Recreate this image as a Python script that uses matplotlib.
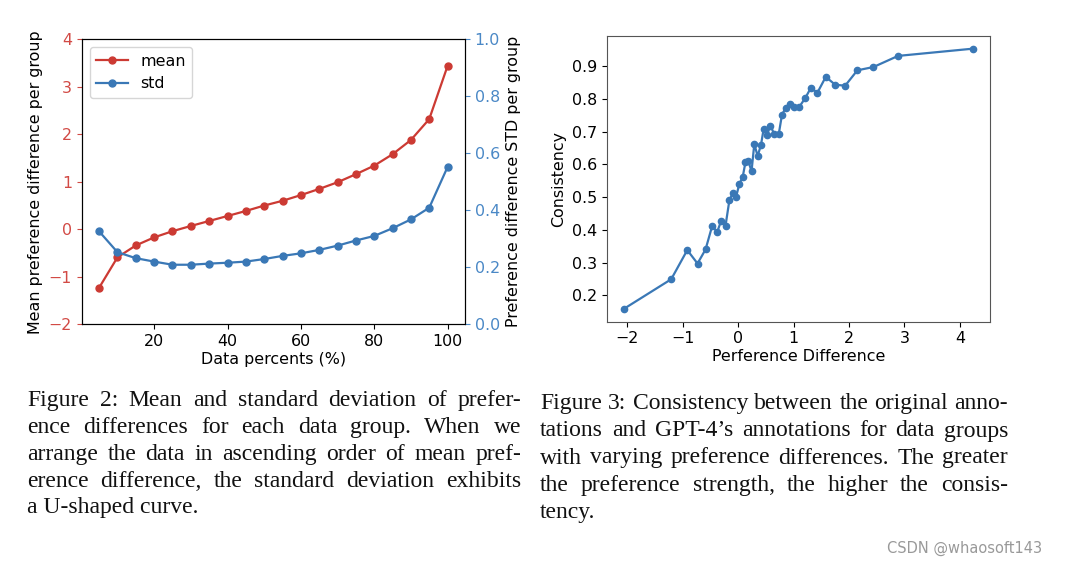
import numpy as np
import matplotlib
matplotlib.use('Agg')
import matplotlib.pyplot as plt

# data: figure 2 (left)
percents = [5, 10, 15, 20, 25, 30, 35, 40, 45, 50, 55, 60, 65, 70, 75, 80, 85, 90, 95, 100]
mean_diff = [-1.23, -0.59, -0.34, -0.17, -0.04, 0.07, 0.175, 0.28, 0.386, 0.50,
             0.60, 0.72, 0.85, 0.99, 1.16, 1.34, 1.58, 1.88, 2.32, 3.44]
std_diff = [0.326, 0.253, 0.232, 0.220, 0.209, 0.209, 0.213, 0.216, 0.220, 0.229,
            0.240, 0.249, 0.261, 0.276, 0.294, 0.310, 0.337, 0.368, 0.409, 0.552]

# data: figure 3 (right)
pref_diff = [-2.06, -1.21, -0.92, -0.735, -0.59, -0.47, -0.38, -0.31, -0.23, -0.16,
             -0.10, -0.04, 0.02, 0.08, 0.13, 0.18, 0.24, 0.29, 0.35, 0.41,
             0.46, 0.52, 0.58, 0.65, 0.73, 0.79, 0.86, 0.93, 1.01, 1.10,
             1.205, 1.31, 1.43, 1.58, 1.75, 1.93, 2.15, 2.44, 2.885, 4.23]
consistency = [0.159, 0.249, 0.338, 0.297, 0.340, 0.412, 0.393, 0.427, 0.412, 0.490,
               0.511, 0.500, 0.540, 0.561, 0.606, 0.610, 0.579, 0.662, 0.625, 0.659,
               0.709, 0.690, 0.718, 0.692, 0.691, 0.752, 0.773, 0.784, 0.775, 0.775,
               0.801, 0.833, 0.819, 0.867, 0.843, 0.840, 0.887, 0.897, 0.931, 0.953]

caption_left = [
    "Figure 2: Mean and standard deviation of prefer-",
    "ence differences for each data group.  When we",
    "arrange the data in ascending order of mean pref-",
    "erence difference, the standard deviation exhibits",
    "a U-shaped curve.",
]
caption_right = [
    "Figure 3: Consistency between the original anno-",
    "tations and GPT-4\u2019s annotations for data groups",
    "with varying preference differences. The greater",
    "the preference strength, the higher the consis-",
    "tency.",
]

RED = '#cc3a33'
BLUE = '#3a78b6'
RED_T = '#d24a45'
BLUE_T = '#4a88c6'
W, H = 1080, 564
fs = 11.4

fig = plt.figure(figsize=(W / 100, H / 100), dpi=100)

# ---- left chart
ax1 = fig.add_axes([81.7 / W, 1 - 324.3 / H, 383.3 / W, 285 / H])
l1, = ax1.plot(percents, mean_diff, '-o', color=RED, lw=1.6, ms=5, label='mean')
ax1.set_ylim(-2, 4)
ax1.set_ylabel('Mean preference difference per group', fontsize=fs)
ax1.set_xlabel('Data percents (%)', fontsize=fs, labelpad=2)
ax1.tick_params(axis='y', colors=RED_T, labelsize=fs)
ax1.tick_params(axis='x', labelsize=fs)
ax1.set_xticks([20, 40, 60, 80, 100])

ax2 = ax1.twinx()
l2, = ax2.plot(percents, std_diff, '-o', color=BLUE, lw=1.6, ms=5, label='std')
ax2.set_ylim(0, 1)
ax2.set_ylabel('Preference difference STD per group', fontsize=fs)
ax2.tick_params(axis='y', colors=BLUE_T, labelsize=fs)
ax1.legend(handles=[l1, l2], loc='upper left', fontsize=fs)

# ---- right chart
ax3 = fig.add_axes([606.7 / W, 1 - 321.7 / H, 383.3 / W, 286 / H])
ax3.plot(pref_diff, consistency, '-o', color=BLUE, lw=1.6, ms=4.5)
ax3.set_ylabel('Consistency', fontsize=fs)
ax3.set_xlabel('Perference Difference', fontsize=fs, labelpad=2)
ax3.tick_params(labelsize=fs)
ax3.set_yticks([0.2, 0.3, 0.4, 0.5, 0.6, 0.7, 0.8, 0.9])
for s in ax3.spines.values():
    s.set_color('#555555')


# ---- captions (justified)
def caption(lines, x0, x1, ys):
    r = fig.canvas.get_renderer()
    for i, (line, y) in enumerate(zip(lines, ys)):
        kw = dict(fontsize=17, family='Liberation Serif', va='baseline', color='#111111')
        if i == len(lines) - 1:
            fig.text(x0 / W, 1 - y / H, line, **kw)
            continue
        words = line.split()
        texts = [fig.text(0, 1 - y / H, w, **kw) for w in words]
        widths = [t.get_window_extent(r).width for t in texts]
        gap = (x1 - x0 - sum(widths)) / (len(words) - 1)
        x = x0
        for t, w in zip(texts, widths):
            t.set_x(x / W)
            x += w + gap


caption(caption_left, 27, 521, [406, 433, 460, 486.7, 513.3])
caption(caption_right, 540, 1008, [409, 436.5, 463.5, 491, 518])

fig.text(887 / W, 1 - 553 / H, 'CSDN @whaosoft143', fontsize=10.5, color='#999999', va='baseline')

fig.savefig('out.png', dpi=100)
